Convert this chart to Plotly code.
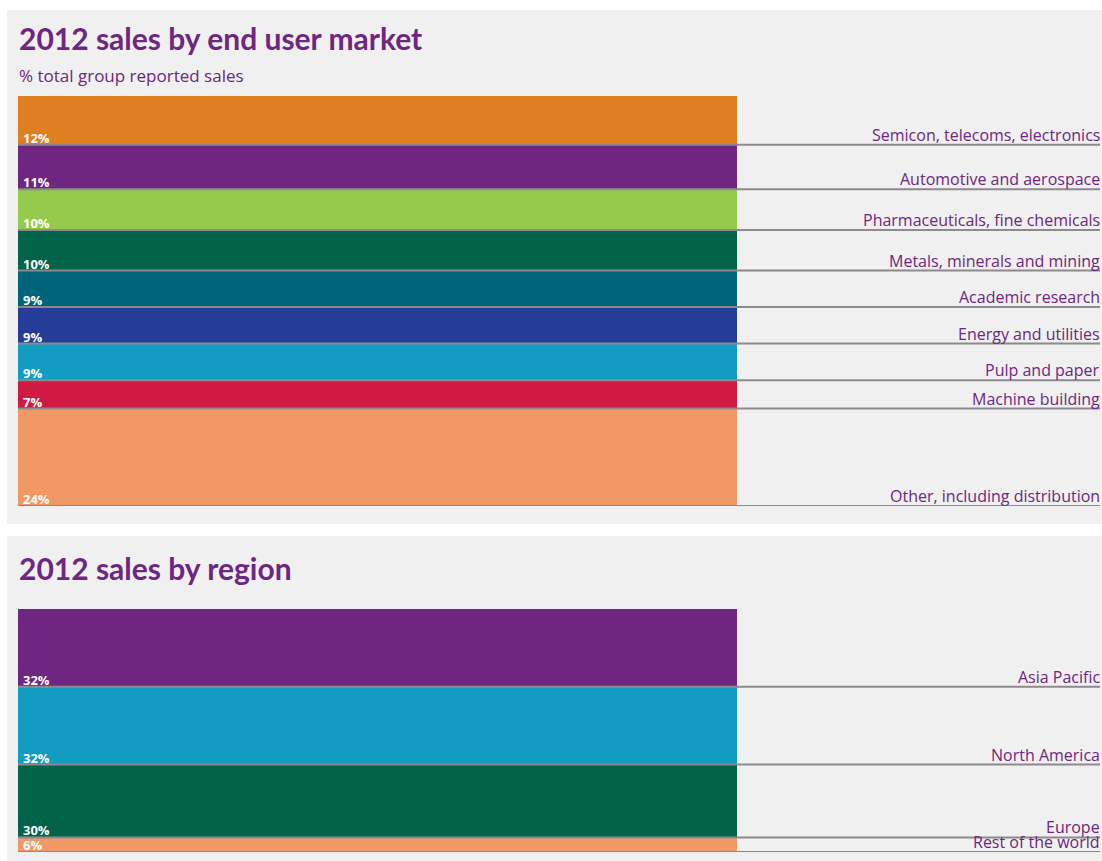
import plotly.graph_objects as go

# ---------------- data ----------------
market_labels = [
    "Semicon, telecoms, electronics",
    "Automotive and aerospace",
    "Pharmaceuticals, fine chemicals",
    "Metals, minerals and mining",
    "Academic research",
    "Energy and utilities",
    "Pulp and paper",
    "Machine building",
    "Other, including distribution",
]
market_values = [12, 11, 10, 10, 9, 9, 9, 7, 24]
market_colors = ["#DE8020", "#6E2680", "#96CA4E", "#00634A", "#00657A",
                 "#253C98", "#139CC2", "#D01A46", "#F09966"]

region_labels = ["Asia Pacific", "North America", "Europe", "Rest of the world"]
region_values = [32, 32, 30, 6]
region_colors = ["#6E2680", "#139CC2", "#00634A", "#F09966"]

title_market = "2012 sales by end user market"
subtitle_market = "% total group reported sales"
title_region = "2012 sales by region"

# ---------------- layout constants ----------------
W, H = 1102, 861
PURPLE = "#6E2680"
LINE = "#8C8A8C"
PANEL = "#F0F0F0"
TFONT = "Lato"
FONT = "Open Sans"
BAR_L, BAR_R, LINE_R = 18, 737, 1100


def py(px):
    return 1 - px / H


fig = go.Figure()


def add_panel(labels, values, colors, yaxis, yref):
    start = 0
    line_x, line_y = [], []
    ann = []
    for lab, v, c in zip(labels, values, colors):
        fig.add_trace(go.Bar(
            x=[(BAR_L + BAR_R) / 2], y=[v], base=[start], width=[BAR_R - BAR_L],
            marker=dict(color=c, line=dict(width=0)), yaxis=yaxis, xaxis="x",
            showlegend=False, hoverinfo="skip"))
        end = start + v
        line_x += [BAR_L, LINE_R, None]
        line_y += [end, end, None]
        ann.append(dict(x=LINE_R + 1, y=end, xref="x", yref=yref, text=lab,
                        showarrow=False, xanchor="right", yanchor="bottom",
                        yshift=-2, borderpad=0,
                        font=dict(family=FONT, size=16, color=PURPLE)))
        ann.append(dict(x=BAR_L + 4, y=end, xref="x", yref=yref, text=f"<b>{v}%</b>",
                        showarrow=False, xanchor="left", yanchor="bottom",
                        yshift=-3, borderpad=0,
                        font=dict(family=FONT, size=13, color="white")))
        start = end
    fig.add_trace(go.Scatter(x=line_x, y=line_y, mode="lines", xaxis="x", yaxis=yaxis,
                             line=dict(color=LINE, width=2), showlegend=False,
                             hoverinfo="skip"))
    return ann, start


ann1, tot1 = add_panel(market_labels, market_values, market_colors, "y", "y")
ann2, tot2 = add_panel(region_labels, region_values, region_colors, "y2", "y2")

annotations = ann1 + ann2
annotations += [
    dict(x=17 / W, y=py(38), xref="paper", yref="paper", text=f"<b>{title_market}</b>",
         showarrow=False, xanchor="left", yanchor="middle",
         font=dict(family=TFONT, size=30, color=PURPLE)),
    dict(x=17 / W, y=py(76), xref="paper", yref="paper", text=subtitle_market,
         showarrow=False, xanchor="left", yanchor="middle",
         font=dict(family=FONT, size=17, color=PURPLE)),
    dict(x=17 / W, y=py(568), xref="paper", yref="paper", text=f"<b>{title_region}</b>",
         showarrow=False, xanchor="left", yanchor="middle",
         font=dict(family=TFONT, size=30, color=PURPLE)),
]

shapes = [
    dict(type="rect", xref="paper", yref="paper", x0=7 / W, x1=1, y0=py(524), y1=py(10),
         fillcolor=PANEL, line=dict(width=0), layer="below"),
    dict(type="rect", xref="paper", yref="paper", x0=7 / W, x1=1, y0=0, y1=py(536),
         fillcolor=PANEL, line=dict(width=0), layer="below"),
]

fig.update_layout(
    width=W, height=H, margin=dict(l=0, r=0, t=0, b=0),
    paper_bgcolor="white", plot_bgcolor="rgba(0,0,0,0)",
    barmode="overlay", bargap=0,
    xaxis=dict(domain=[0, 1], range=[0, W], visible=False, fixedrange=True),
    yaxis=dict(domain=[py(506), py(96)], range=[tot1, 0], visible=False),
    yaxis2=dict(domain=[py(852), py(609)], range=[tot2, 0], visible=False),
    annotations=annotations, shapes=shapes,
)

fig.write_html("out.html", config={"displayModeBar": False},
               post_script="document.body.style.margin='0px';document.body.style.overflow='hidden';")
